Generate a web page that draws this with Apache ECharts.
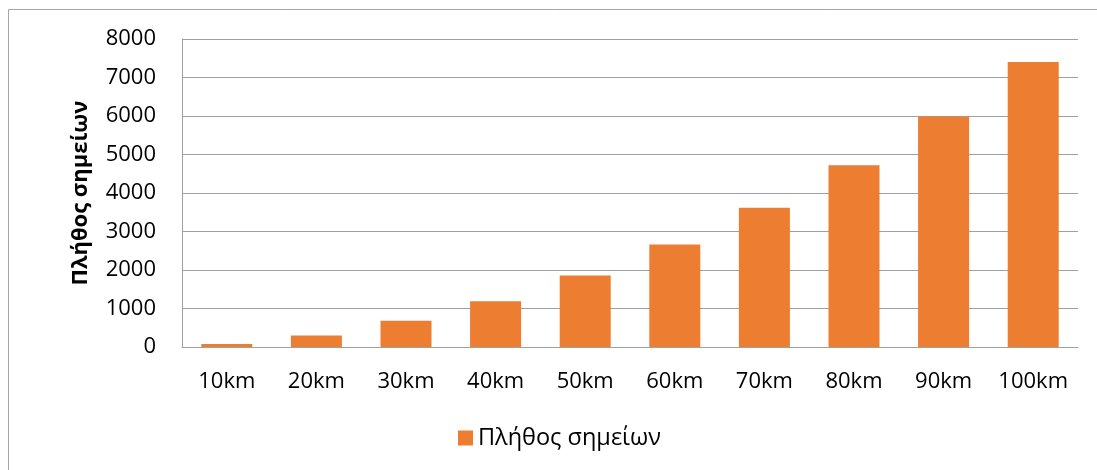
<!DOCTYPE html>
<html>
<head>
<meta charset="utf-8">
<script src="https://cdn.jsdelivr.net/npm/echarts@6/dist/echarts.min.js"></script>
<style>
  html, body { margin: 0; padding: 0; background: #fff; }
  #chart { width: 1097px; height: 470px; }
</style>
</head>
<body>
<div id="chart"></div>
<script>
// Number of points per search radius
const categories = ['10km', '20km', '30km', '40km', '50km', '60km', '70km', '80km', '90km', '100km'];
const pointCounts = [80, 300, 680, 1190, 1860, 2660, 3620, 4720, 5990, 7400];
const seriesName = 'Πλήθος σημείων';
const axisTitle = 'Πλήθος σημείων';
const yTicks = { min: 0, max: 8000, interval: 1000 };

const FONT = '"Open Sans", "DejaVu Sans", sans-serif';
const chart = echarts.init(document.getElementById('chart'), null, { renderer: 'canvas' });

chart.setOption({
  animation: false,
  backgroundColor: '#ffffff',
  graphic: [{
    type: 'rect',
    shape: { x: 8.5, y: 9.5, width: 1200, height: 600 },
    style: { fill: 'none', stroke: '#a6a6a6', lineWidth: 1 },
    silent: true,
    z: -1
  }],
  grid: { left: 182, right: 19, top: 39, bottom: 123, containLabel: false },
  legend: {
    data: [seriesName],
    bottom: 20,
    left: 458,
    padding: 0,
    itemWidth: 15,
    itemHeight: 15,
    itemGap: 8,
    icon: 'rect',
    textStyle: { fontFamily: FONT, fontSize: 23.5, color: '#000' }
  },
  xAxis: {
    type: 'category',
    data: categories,
    axisLine: { show: true, lineStyle: { color: '#a0a0a0', width: 1 } },
    axisTick: { show: false },
    axisLabel: { interval: 0, fontFamily: FONT, fontSize: 22, color: '#000', margin: 24 }
  },
  yAxis: {
    type: 'value',
    min: yTicks.min,
    max: yTicks.max,
    interval: yTicks.interval,
    name: axisTitle,
    nameLocation: 'middle',
    nameGap: 90,
    nameTextStyle: { fontFamily: FONT, fontSize: 22, fontWeight: 'bold', color: '#000' },
    axisLine: { show: true, lineStyle: { color: '#a0a0a0', width: 1 } },
    axisTick: { show: false },
    splitLine: { show: true, lineStyle: { color: '#a0a0a0', width: 1 } },
    axisLabel: { fontFamily: FONT, fontSize: 22, color: '#000', margin: 26, formatter: v => String(v) }
  },
  series: [{
    name: seriesName,
    type: 'bar',
    data: pointCounts,
    barWidth: 51,
    itemStyle: { color: '#ED7D31' }
  }]
});
</script>
</body>
</html>
